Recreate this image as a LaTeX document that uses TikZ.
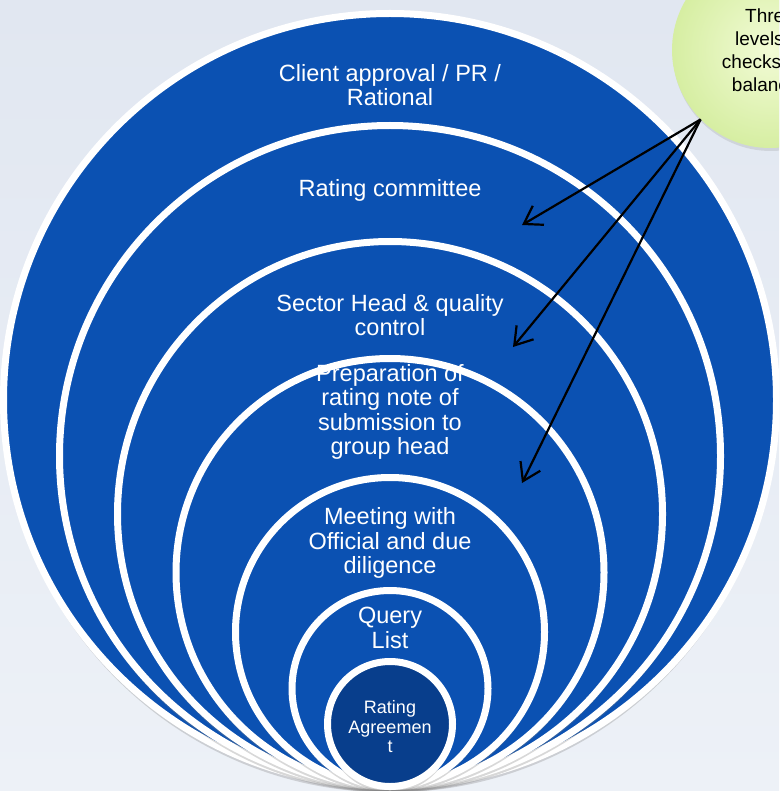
\documentclass[tikz,border=0pt]{standalone}
\usepackage{fontspec}
\setmainfont{Liberation Sans}
\usetikzlibrary{arrows.meta,shadows}
\definecolor{ratingblue}{RGB}{11,81,178}
\definecolor{coreblue}{RGB}{8,62,140}
\definecolor{bgtop}{RGB}{225,231,241}
\definecolor{bgbottom}{RGB}{237,241,247}
\definecolor{balloonin}{RGB}{242,251,214}
\definecolor{balloonout}{RGB}{214,238,162}
\begin{document}
\begin{tikzpicture}[x=1pt, y=-1pt,
    ring/.style={circle, draw=white, line width=7pt, fill=ratingblue, inner sep=0pt,
        drop shadow={shadow xshift=0pt, shadow yshift=-6pt, opacity=0.3}},
    steptext/.style={text=white, align=center, font=\fontsize{23.5}{24.5}\selectfont},
    pointer/.style={-{Straight Barb[length=17pt, width=22pt]}, line width=2.2pt}]
        % Canvas and background
        \useasboundingbox (0,0) rectangle (779,791);
        \clip (0,0) rectangle (779,791);
        \fill[top color=bgtop, bottom color=bgbottom] (0,0) rectangle (779,791);

        % Nested circles, all touching at the bottom
        \node[ring, minimum size=773pt] (client) at (390,400) {};
        \node[ring, minimum size=661pt] (committee) at (390,456) {};
        \node[ring, minimum size=545pt] (sector) at (390,514) {};
        \node[ring, minimum size=428pt] (prep) at (390,572.5) {};
        \node[ring, minimum size=309pt] (meeting) at (390,632) {};
        \node[ring, minimum size=196pt] (query) at (390,688.5) {};
        \node[ring, minimum size=125pt, fill=coreblue] (agreement) at (390,724) {};

        % Labels of the levels
        \node[steptext] (client-text) at (390,85) {Client approval / PR /\\Rational};
        \node[steptext] (committee-text) at (390,190) {Rating committee};
        \node[steptext] (sector-text) at (390,315) {Sector Head \& quality\\control};
        \node[steptext] (prep-text) at (390,412) {Preparation of\\rating note of\\submission to\\group head};
        \node[steptext] (meeting-text) at (390,543) {Meeting with\\Official and due\\diligence};
        \node[steptext] (query-text) at (390,628) {Query\\List};
        \node[steptext, font=\fontsize{18}{19.5}\selectfont] (agreement-text) at (390,727) {Rating\\Agreemen\\t};

        % Callout balloon
        \node[circle, minimum size=196pt, inner sep=0pt, inner color=balloonin, outer color=balloonout,
            drop shadow={shadow xshift=1pt, shadow yshift=-3pt, opacity=0.2},
            align=center, font=\fontsize{19}{23}\selectfont] (balloon) at (770,50) {Three\\levels of\\checks and\\balances};

        % Arrows into the rings
        \coordinate (tip1) at (522,225);
        \coordinate (tip2) at (513,347);
        \coordinate (tip3) at (522,483);
        \draw[pointer] (balloon.225) -- (tip1);
        \draw[pointer] (balloon.225) -- (tip2);
        \draw[pointer] (balloon.225) -- (tip3);
\end{tikzpicture}
\end{document}
